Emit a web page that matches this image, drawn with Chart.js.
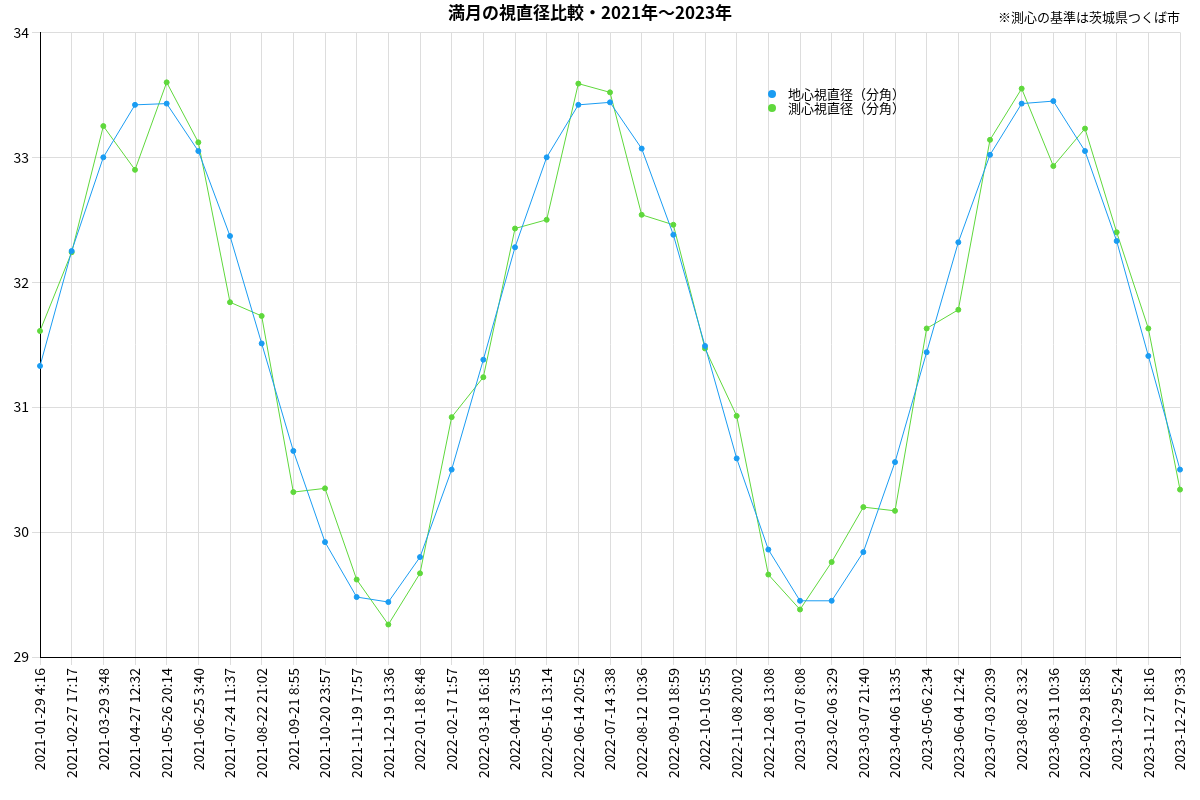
<!DOCTYPE html>
<html>
<head>
<meta charset="utf-8">
<script src="https://cdn.jsdelivr.net/npm/chart.js@4.4.0/dist/chart.umd.min.js"></script>
<style>
  body{margin:0;background:#fff;}
  #wrap{width:1200px;height:800px;position:relative;}
</style>
</head>
<body>
<div id="wrap"><canvas id="myChart" width="1200" height="800"></canvas></div>
<script>
// 満月の日時
const labels = [
  "2021-01-29 4:16","2021-02-27 17:17","2021-03-29 3:48","2021-04-27 12:32","2021-05-26 20:14",
  "2021-06-25 3:40","2021-07-24 11:37","2021-08-22 21:02","2021-09-21 8:55","2021-10-20 23:57",
  "2021-11-19 17:57","2021-12-19 13:36","2022-01-18 8:48","2022-02-17 1:57","2022-03-18 16:18",
  "2022-04-17 3:55","2022-05-16 13:14","2022-06-14 20:52","2022-07-14 3:38","2022-08-12 10:36",
  "2022-09-10 18:59","2022-10-10 5:55","2022-11-08 20:02","2022-12-08 13:08","2023-01-07 8:08",
  "2023-02-06 3:29","2023-03-07 21:40","2023-04-06 13:35","2023-05-06 2:34","2023-06-04 12:42",
  "2023-07-03 20:39","2023-08-02 3:32","2023-08-31 10:36","2023-09-29 18:58","2023-10-29 5:24",
  "2023-11-27 18:16","2023-12-27 9:33"
];
// 地心視直径（分角）
const geocentric = [
  31.33,32.25,33.00,33.42,33.43,33.05,32.37,31.51,30.65,29.92,
  29.48,29.44,29.80,30.50,31.38,32.28,33.00,33.42,33.44,33.07,
  32.38,31.49,30.59,29.86,29.45,29.45,29.84,30.56,31.44,32.32,
  33.02,33.43,33.45,33.05,32.33,31.41,30.50
];
// 測心視直径（分角）
const topocentric = [
  31.61,32.24,33.25,32.90,33.60,33.12,31.84,31.73,30.32,30.35,
  29.62,29.26,29.67,30.92,31.24,32.43,32.50,33.59,33.52,32.54,
  32.46,31.47,30.93,29.66,29.38,29.76,30.20,30.17,31.63,31.78,
  33.14,33.55,32.93,33.23,32.40,31.63,30.34
];
const seriesNames = ["地心視直径（分角）","測心視直径（分角）"];
const colors = ["#1a9cf2","#5fd83c"];
const FONT = "'Hiragino Sans','Noto Sans CJK JP',sans-serif";

// legend + note drawn on canvas
const extras = {
  id:"extras",
  afterDraw(chart){
    const ctx = chart.ctx;
    ctx.save();
    ctx.font = "13px " + FONT;
    ctx.fillStyle = "#000";
    ctx.textAlign = "right";
    ctx.textBaseline = "middle";
    ctx.fillText("※測心の基準は茨城県つくば市", 1180, 17);
    ctx.textAlign = "left";
    seriesNames.forEach((n,i)=>{
      const y = 94 + i*14;
      ctx.fillStyle = colors[i];
      ctx.beginPath(); ctx.arc(772, y, 4, 0, Math.PI*2); ctx.fill();
      ctx.fillStyle = "#000";
      ctx.fillText(n, 788, y);
    });
    ctx.restore();
  }
};

new Chart(document.getElementById("myChart").getContext("2d"), {
  type:"line",
  data:{
    labels: labels,
    datasets: seriesNames.map((n,i)=>({
      label:n,
      data: i===0 ? geocentric : topocentric,
      borderColor: colors[i],
      backgroundColor: colors[i],
      borderWidth: 1,
      pointRadius: 2.5,
      tension: 0
    }))
  },
  options:{
    responsive:false,
    animation:false,
    layout:{padding:{top:2,right:20,left:0}},
    plugins:{
      legend:{display:false},
      title:{display:true,text:"満月の視直径比較・2021年〜2023年",color:"#000",
        font:{family:FONT,size:17,weight:"bold"},padding:{top:0,bottom:10}}
    },
    scales:{
      x:{
        offset:false,
        grid:{color:"#dddddd"},
        border:{color:"#000"},
        afterFit(s){ s.height = 143; },
        ticks:{color:"#000",maxRotation:90,minRotation:90,autoSkip:false,
          font:{family:FONT,size:14}}
      },
      y:{
        min:29,max:34,
        grid:{color:"#dddddd"},
        border:{color:"#000"},
        afterFit(s){ s.width = 40; },
        ticks:{stepSize:1,color:"#000",font:{family:FONT,size:14}}
      }
    }
  },
  plugins:[extras]
});
</script>
</body>
</html>
